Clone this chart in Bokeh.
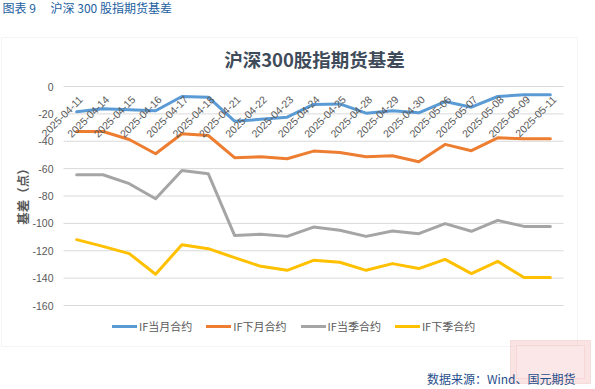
import math
from bokeh.plotting import figure
from bokeh.models import Range1d, Label, BoxAnnotation, Legend, LegendItem
from bokeh.core.properties import value
from bokeh.embed import file_html
from bokeh.resources import INLINE

# ---------------- data ----------------
dates = ["2025-04-11", "2025-04-14", "2025-04-15", "2025-04-16", "2025-04-17",
         "2025-04-18", "2025-04-21", "2025-04-22", "2025-04-23", "2025-04-24",
         "2025-04-25", "2025-04-28", "2025-04-29", "2025-04-30", "2025-05-06",
         "2025-05-07", "2025-05-08", "2025-05-09", "2025-05-11"]
if_current_month = [-18.5, -16.3, -17.0, -17.7, -7.3, -7.8, -25.3, -24.0, -22.4, -13.1,
                    -12.7, -19.5, -17.8, -19.2, -11.0, -15.1, -7.3, -6.1, -6.1]
if_next_month = [-32.9, -32.9, -38.7, -49.1, -34.5, -35.8, -52.0, -51.3, -52.8, -47.2,
                 -48.2, -51.3, -50.6, -55.0, -42.3, -46.9, -37.5, -38.2, -38.2]
if_current_quarter = [-64.5, -64.5, -71.0, -82.0, -61.3, -63.7, -108.8, -108.0, -109.5, -102.7,
                      -105.0, -109.5, -105.6, -107.5, -100.2, -105.8, -97.8, -102.2, -102.2]
if_next_quarter = [-111.9, -116.8, -122.1, -137.2, -115.6, -118.5, -125.0, -131.4, -134.3, -127.0,
                   -128.4, -134.3, -129.4, -133.0, -126.3, -136.7, -127.7, -139.6, -139.6]
series_names = ["IF当月合约", "IF下月合约", "IF当季合约", "IF下季合约"]
series_values = [if_current_month, if_next_month, if_current_quarter, if_next_quarter]
series_colors = ["#5B9BD5", "#ED7D31", "#A5A5A5", "#FFC000"]
y_min, y_max, y_step = -160, 0, 20
y_ticks = list(range(y_min, y_max + 1, y_step))

caption_text = "图表 9　 沪深 300 股指期货基差"
title_text = "沪深300股指期货基差"
ylabel_text = "基差（点）"
source_text = "数据来源：Wind、国元期货"

# ---------------- layout (page pixels) ----------------
W, H = 595, 389
FL, FR, FT, FB = 63, 563, 86, 305   # plot-area edges
n = len(dates)
idx = list(range(n))
ux = (FR - FL) / n                  # px per category
uy = (FB - FT) / (y_max - y_min)    # px per unit
x_start = -0.5 - FL / ux
x_end = x_start + W / ux
y_end = y_max + FT / uy
y_start = y_end - H / uy


def dx(px):
    return x_start + px / ux


def dy(py):
    return y_end - py / uy


p = figure(width=W, height=H, x_range=Range1d(x_start, x_end),
           y_range=Range1d(y_start, y_end), output_backend="svg",
           toolbar_location=None, x_axis_location=None, y_axis_location=None,
           title=None, min_border=0)
p.outline_line_color = None
p.background_fill_color = "white"
p.border_fill_color = "white"
p.grid.visible = False

# chart border box
p.add_layout(BoxAnnotation(left=dx(1), right=dx(577), top=dy(37), bottom=dy(346),
                           fill_alpha=0, line_color="#D6DCE4", line_width=1))

# horizontal gridlines across the category span
p.segment(x0=[idx[0] - 0.5] * len(y_ticks), x1=[idx[-1] + 0.5] * len(y_ticks),
          y0=y_ticks, y1=y_ticks, line_color="#D9D9D9", line_width=1)

# y tick labels
p.text(x=[idx[0] - 0.5] * len(y_ticks), y=y_ticks, text=[str(t) for t in y_ticks],
       x_offset=-10, text_align="right", text_baseline="middle",
       text_font=value("Liberation Sans"), text_font_size="10.5px",
       text_color="#595959")

renderers = []
for name, vals, col in zip(series_names, series_values, series_colors):
    r = p.line(x=idx, y=vals, line_width=3, line_color=col, line_join="round",
               line_cap="round")
    renderers.append(r)

# category labels rotated at the 0 line
p.text(x=idx, y=[y_max] * n, text=dates, angle=math.pi / 4,
       text_align="right", text_baseline="middle", x_offset=4, y_offset=11,
       text_font=value("Liberation Sans"), text_font_size="10.5px",
       text_color="#595959")

legend = Legend(items=[LegendItem(label=nm, renderers=[r]) for nm, r in zip(series_names, renderers)],
                location=(112, H - 334), orientation="horizontal",
                glyph_width=25, glyph_height=12, label_height=12, label_standoff=2,
                spacing=14, padding=0, margin=0, border_line_color=None,
                background_fill_alpha=0, label_text_font="Noto Sans CJK SC",
                label_text_font_size="11px", label_text_color="#595959")
p.add_layout(legend)

# watermark stamp (pale)
p.add_layout(BoxAnnotation(left=dx(510), right=dx(590), top=dy(340), bottom=dy(383),
                           fill_color="#F4C7C7", fill_alpha=0.5,
                           line_color="#EBA9A9", line_width=1))
p.add_layout(BoxAnnotation(left=dx(516), right=dx(584), top=dy(345), bottom=dy(378),
                           fill_color="#FBEAEA", fill_alpha=0.6,
                           line_color="#EFB5B5", line_width=1))

p.add_layout(Label(x=dx(2), y=dy(6.5), text=caption_text, text_font="Noto Sans CJK SC",
                   text_font_size="12px", text_color="#22609F",
                   text_align="left", text_baseline="middle"))
p.add_layout(Label(x=dx(314), y=dy(58.5), text=title_text, text_font="Noto Sans CJK SC",
                   text_font_size="18.5px", text_font_style="bold", text_color="#404B5A",
                   text_align="center", text_baseline="middle"))
p.add_layout(Label(x=dx(21.5), y=dy(193), text=ylabel_text, angle=math.pi / 2,
                   text_font="Noto Sans CJK SC", text_font_size="12.5px",
                   text_font_style="bold", text_color="#595959",
                   text_align="center", text_baseline="middle"))
p.add_layout(Label(x=dx(575), y=dy(378), text=source_text, text_font="Noto Sans CJK SC",
                   text_font_size="12px", text_color="#1F4E8C",
                   text_align="right", text_baseline="middle"))

open("out.html", "w").write(file_html(p, INLINE))
